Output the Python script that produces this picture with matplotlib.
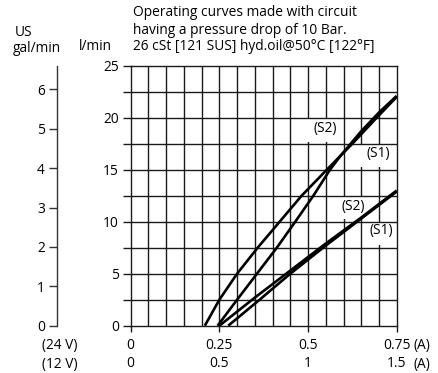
import numpy as np
import matplotlib
matplotlib.use('Agg')
import matplotlib.pyplot as plt
import matplotlib.patches as mpatches

plt.rcParams['font.family'] = ['Open Sans', 'DejaVu Sans']
plt.rcParams['font.size'] = 9.9

# --- data (current in A, flow in l/min) ---
upper_s2_x = [0.209, 0.25, 0.30, 0.358, 0.42, 0.482, 0.553, 0.625, 0.688, 0.75]
upper_s2_y = [0.0, 2.5, 5.0, 7.5, 10.0, 12.5, 15.0, 17.5, 19.8, 22.0]
upper_s1_x = [0.245, 0.30, 0.356, 0.412, 0.464, 0.515, 0.562, 0.593, 0.65, 0.70, 0.75]
upper_s1_y = [0.0, 2.5, 5.0, 7.5, 10.0, 12.5, 15.0, 16.4, 18.7, 20.5, 22.1]
lower_s2_x = [0.25, 0.35, 0.45, 0.55, 0.65, 0.75]
lower_s2_y = [0.0, 2.7, 5.3, 7.9, 10.4, 13.0]
lower_s1_x = [0.275, 0.36, 0.45, 0.55, 0.65, 0.75]
lower_s1_y = [0.0, 2.4, 5.0, 7.7, 10.3, 12.9]

curve_labels = ['(S2)', '(S1)', '(S2)', '(S1)']
label_xy = [(0.548, 19.0), (0.697, 16.6), (0.627, 11.5), (0.707, 9.2)]
# white patches that break the vertical grid behind each label (x0, x1, y0, y1)
label_gaps = [(0.49, 0.585, 17.7, 20.0), (0.64, 0.735, 15.3, 17.5),
              (0.59, 0.665, 10.3, 12.5), (0.675, 0.735, 7.75, 10.0)]

x_ticks_24v = [0, 0.25, 0.5, 0.75]
x_labels_24v = ['0', '0.25', '0.5', '0.75']
x_labels_12v = ['0', '0.5', '1', '1.5']
y_ticks = [0, 5, 10, 15, 20, 25]
gal_ticks = [0, 1, 2, 3, 4, 5, 6]
L_PER_GAL = 3.78541

W, H = 439, 373
fig = plt.figure(figsize=(W / 100, H / 100), dpi=100)
L, R, T, B = 130.7, 396.7, 65.7, 325.7
ax = fig.add_axes([L / W, 1 - B / H, (R - L) / W, (B - T) / H])
ax.set_xlim(0, 0.75)
ax.set_ylim(0, 25)

grid_c = '#1a1a1a'
xg = np.arange(0, 0.7501, 0.05)
yg = np.arange(0, 25.01, 2.5)
ax.vlines(xg[1:-1], 0, 25, color=grid_c, lw=1.0, zorder=1)
for x0, x1, y0, y1 in label_gaps:
    ax.add_patch(mpatches.Rectangle((x0, y0), x1 - x0, y1 - y0,
                                    facecolor='white', edgecolor='none', zorder=1.5))
ax.hlines(yg[1:-1], 0, 0.75, color=grid_c, lw=1.0, zorder=2)

for xs, ys in [(upper_s2_x, upper_s2_y), (upper_s1_x, upper_s1_y),
               (lower_s2_x, lower_s2_y), (lower_s1_x, lower_s1_y)]:
    ax.plot(xs, ys, color='black', lw=1.9, zorder=3, solid_capstyle='butt')

for lab, (lx, ly) in zip(curve_labels, label_xy):
    ax.text(lx, ly, lab, ha='center', va='center', zorder=4)

for s in ax.spines.values():
    s.set_color(grid_c)
    s.set_linewidth(1.0)

ax.set_yticks(yg, minor=True)
ax.set_yticks(y_ticks)
ax.set_yticklabels([str(v) for v in y_ticks])
ax.tick_params(axis='y', which='both', direction='out', length=5.5, width=1.0,
               color=grid_c, pad=3)
ax.set_xticks(x_ticks_24v)
ax.set_xticklabels([a + '\n' + b for a, b in zip(x_labels_24v, x_labels_12v)],
                   linespacing=1.25)
ax.tick_params(axis='x', direction='out', length=4.3, width=1.0, color=grid_c, pad=4.5)

# US gal/min scale on the far left
gax = fig.add_axes([57 / W, 1 - B / H, 0.001, (B - T) / H])
gax.set_ylim(0, 25 / L_PER_GAL)
gax.set_xticks([])
gax.set_yticks(gal_ticks)
gax.set_yticklabels([str(v) for v in gal_ticks])
for k in ['top', 'right', 'bottom']:
    gax.spines[k].set_visible(False)
gax.spines['left'].set_color('#333333')
gax.spines['left'].set_linewidth(1.0)
gax.tick_params(axis='y', direction='out', length=5.8, width=1.0, color='#333333', pad=3)
gax.patch.set_visible(False)

fig.text(15 / W, 1 - 33 / H, 'US', ha='left', va='center')
fig.text(13 / W, 1 - 49 / H, 'gal/min', ha='left', va='center')
fig.text(95 / W, 1 - 47 / H, 'l/min', ha='center', va='center')
fig.text(60 / W, 1 - 345.7 / H, '(24 V)', ha='center', va='center')
fig.text(60 / W, 1 - 364.3 / H, '(12 V)', ha='center', va='center')
fig.text(422 / W, 1 - 345.7 / H, '(A)', ha='center', va='center')
fig.text(422 / W, 1 - 364.3 / H, '(A)', ha='center', va='center')

title_lines = ['Operating curves made with circuit',
               'having a pressure drop of 10 Bar.',
               '26 cSt [121 SUS] hyd.oil@50°C [122°F]']
for i, line in enumerate(title_lines):
    fig.text(133 / W, 1 - (13 + 17 * i) / H, line, ha='left', va='center')

fig.savefig('out.png', dpi=100)
